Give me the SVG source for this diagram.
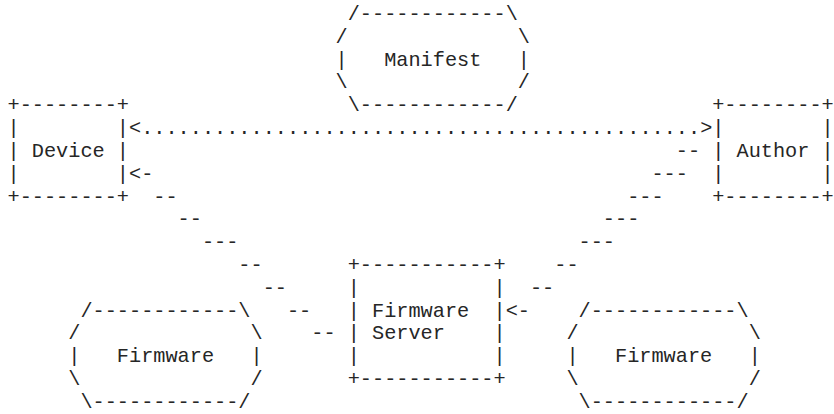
<svg xmlns="http://www.w3.org/2000/svg" width="834" height="414" viewBox="0 0 834 414">
<style>
text{font-family:"Liberation Mono","DejaVu Sans Mono",monospace;font-size:20.25px;fill:#262626;white-space:pre}
</style>
<rect width="834" height="414" fill="#fff"/>
<g id="manifest">
<text x="347.7" y="20">/------------\</text>
<text x="335.55" y="42.82">/</text><text x="517.8" y="42.82">\</text>
<text x="335.55" y="65.64">|</text><text x="384.15" y="65.64">Manifest</text><text x="517.8" y="65.64">|</text>
<text x="335.55" y="88.46">\</text><text x="517.8" y="88.46">/</text>
<text x="347.7" y="111.28">\------------/</text>
</g>
<g id="device">
<text x="7.5" y="111.28">+--------+</text>
<text x="7.5" y="134.1">|</text><text x="116.85" y="134.1">|</text>
<text x="7.5" y="156.92">|</text><text x="31.8" y="156.92">Device</text><text x="116.85" y="156.92">|</text>
<text x="7.5" y="179.74">|</text><text x="116.85" y="179.74">|</text>
<text x="7.5" y="202.56">+--------+</text>
</g>
<g id="author">
<text x="712.2" y="111.28">+--------+</text>
<text x="712.2" y="134.1">|</text><text x="821.55" y="134.1">|</text>
<text x="712.2" y="156.92">|</text><text x="736.5" y="156.92">Author</text><text x="821.55" y="156.92">|</text>
<text x="712.2" y="179.74">|</text><text x="821.55" y="179.74">|</text>
<text x="712.2" y="202.56">+--------+</text>
</g>
<g id="firmware-server">
<text x="347.7" y="271.02">+-----------+</text>
<text x="347.7" y="293.84">|</text><text x="493.5" y="293.84">|</text>
<text x="347.7" y="316.66">|</text><text x="372" y="316.66">Firmware</text><text x="493.5" y="316.66">|</text>
<text x="347.7" y="339.48">|</text><text x="372" y="339.48">Server</text><text x="493.5" y="339.48">|</text>
<text x="347.7" y="362.3">|</text><text x="493.5" y="362.3">|</text>
<text x="347.7" y="385.12">+-----------+</text>
</g>
<g id="firmware-left">
<text x="80.4" y="316.66">/------------\</text>
<text x="68.25" y="339.48">/</text><text x="250.5" y="339.48">\</text>
<text x="68.25" y="362.3">|</text><text x="116.85" y="362.3">Firmware</text><text x="250.5" y="362.3">|</text>
<text x="68.25" y="385.12">\</text><text x="250.5" y="385.12">/</text>
<text x="80.4" y="407.94">\------------/</text>
</g>
<g id="firmware-right">
<text x="578.55" y="316.66">/------------\</text>
<text x="566.4" y="339.48">/</text><text x="748.65" y="339.48">\</text>
<text x="566.4" y="362.3">|</text><text x="615" y="362.3">Firmware</text><text x="748.65" y="362.3">|</text>
<text x="566.4" y="385.12">\</text><text x="748.65" y="385.12">/</text>
<text x="578.55" y="407.94">\------------/</text>
</g>
<g id="connectors">
<text x="129" y="134.1">&lt;..............................................&gt;</text>
<text x="129" y="179.74">&lt;-</text>
<text x="153.3" y="202.56">--</text>
<text x="177.6" y="225.38">--</text>
<text x="201.9" y="248.2">---</text>
<text x="238.35" y="271.02">--</text>
<text x="262.65" y="293.84">--</text>
<text x="286.95" y="316.66">--</text>
<text x="311.25" y="339.48">--</text>
<text x="675.75" y="156.92">--</text>
<text x="651.45" y="179.74">---</text>
<text x="627.15" y="202.56">---</text>
<text x="602.85" y="225.38">---</text>
<text x="578.55" y="248.2">---</text>
<text x="554.25" y="271.02">--</text>
<text x="529.95" y="293.84">--</text>
<text x="505.65" y="316.66">&lt;-</text>
</g>
</svg>
